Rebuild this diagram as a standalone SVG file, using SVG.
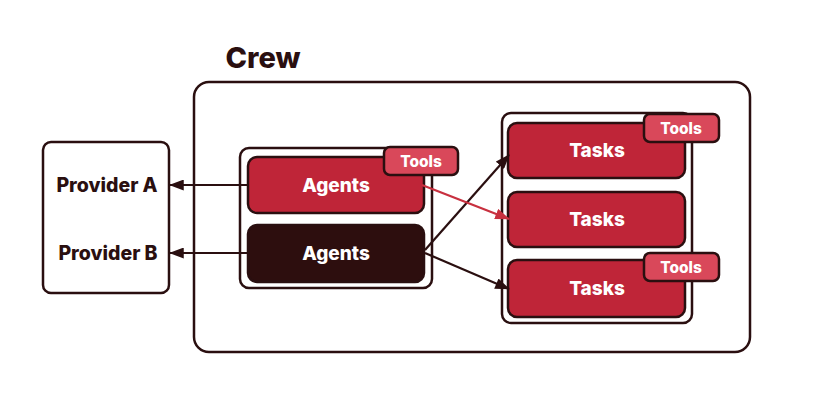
<svg xmlns="http://www.w3.org/2000/svg" width="836" height="402" viewBox="0 0 836 402">
<defs>
<marker id="ah" viewBox="0 0 16 12" refX="15" refY="6" markerWidth="15" markerHeight="11" orient="auto" markerUnits="userSpaceOnUse">
<path d="M0,0 L16,6 L0,12 z" fill="#2a0f10"/>
</marker>
<marker id="ahr" viewBox="0 0 16 12" refX="15" refY="6" markerWidth="15" markerHeight="11" orient="auto" markerUnits="userSpaceOnUse">
<path d="M0,0 L16,6 L0,12 z" fill="#c8303f"/>
</marker>
<style>
.frame{fill:#fff;stroke:#2a0f10;stroke-width:2.5}
.red{fill:#bf2538;stroke:#2a0f10;stroke-width:2.5}
.dark{fill:#2d0e0e;stroke:#2a0f10;stroke-width:2.5}
.tools{fill:#d9485a;stroke:#2a0f10;stroke-width:2.5}
.lbl{font-family:Inter,"Liberation Sans",sans-serif;font-weight:800;fill:#fff;text-anchor:middle}
.plbl{font-family:Inter,"Liberation Sans",sans-serif;font-weight:800;fill:#2a0f10;text-anchor:middle;font-size:19.5px}
.ln{stroke:#2a0f10;stroke-width:2.2;fill:none}
.lnr{stroke:#c8303f;stroke-width:2.2;fill:none}
</style>
</defs>
<rect width="836" height="402" fill="#fff"/>

<g id="crew">
<rect class="frame" x="194" y="82" width="556" height="270" rx="15"/>
<text x="263" y="68" font-family="Inter,'Liberation Sans',sans-serif" font-weight="800" font-size="29" fill="#2a0f10" text-anchor="middle">Crew</text>
</g>

<g id="providers">
<rect class="frame" x="43" y="142" width="126" height="151" rx="8"/>
<text class="plbl" x="107" y="192">Provider A</text>
<text class="plbl" x="108" y="260">Provider B</text>
</g>

<g id="agents-group">
<rect class="frame" x="240" y="148" width="192" height="140" rx="9"/>
</g>
<g id="agent-a">
<rect class="red" x="248" y="157" width="176" height="56" rx="9"/>
<text class="lbl" x="336" y="192" font-size="19">Agents</text>
</g>
<g id="agent-a-tools">
<rect class="tools" x="384" y="147" width="74" height="28" rx="6"/>
<text class="lbl" x="421" y="167" font-size="15.5">Tools</text>
</g>
<g id="agent-b">
<rect class="dark" x="248" y="225" width="176" height="57" rx="9"/>
<text class="lbl" x="336" y="260" font-size="19">Agents</text>
</g>

<g id="tasks-group">
<rect class="frame" x="502" y="113" width="190" height="210" rx="9"/>
</g>
<g id="task-1">
<rect class="red" x="508" y="123" width="177" height="55" rx="9"/>
<text class="lbl" x="597" y="157" font-size="19">Tasks</text>
</g>
<g id="task-1-tools">
<rect class="tools" x="644" y="114" width="75" height="28" rx="6"/>
<text class="lbl" x="681" y="134" font-size="15.5">Tools</text>
</g>
<g id="task-2">
<rect class="red" x="508" y="192" width="177" height="55" rx="9"/>
<text class="lbl" x="597" y="226" font-size="19">Tasks</text>
</g>
<g id="task-3">
<rect class="red" x="508" y="260" width="177" height="57" rx="9"/>
<text class="lbl" x="597" y="295" font-size="19">Tasks</text>
</g>
<g id="task-3-tools">
<rect class="tools" x="644" y="253" width="75" height="28" rx="6"/>
<text class="lbl" x="681" y="273" font-size="15.5">Tools</text>
</g>

<g id="connectors">
<line class="ln" x1="248" y1="185" x2="170" y2="185" marker-end="url(#ah)"/>
<line class="ln" x1="248" y1="253" x2="170" y2="253" marker-end="url(#ah)"/>
<line class="ln" x1="425" y1="250" x2="509" y2="155" marker-end="url(#ah)"/>
<line class="ln" x1="425" y1="253" x2="509" y2="289" marker-end="url(#ah)"/>
<line class="lnr" x1="422" y1="185" x2="509" y2="219" marker-end="url(#ahr)"/>
</g>
</svg>
